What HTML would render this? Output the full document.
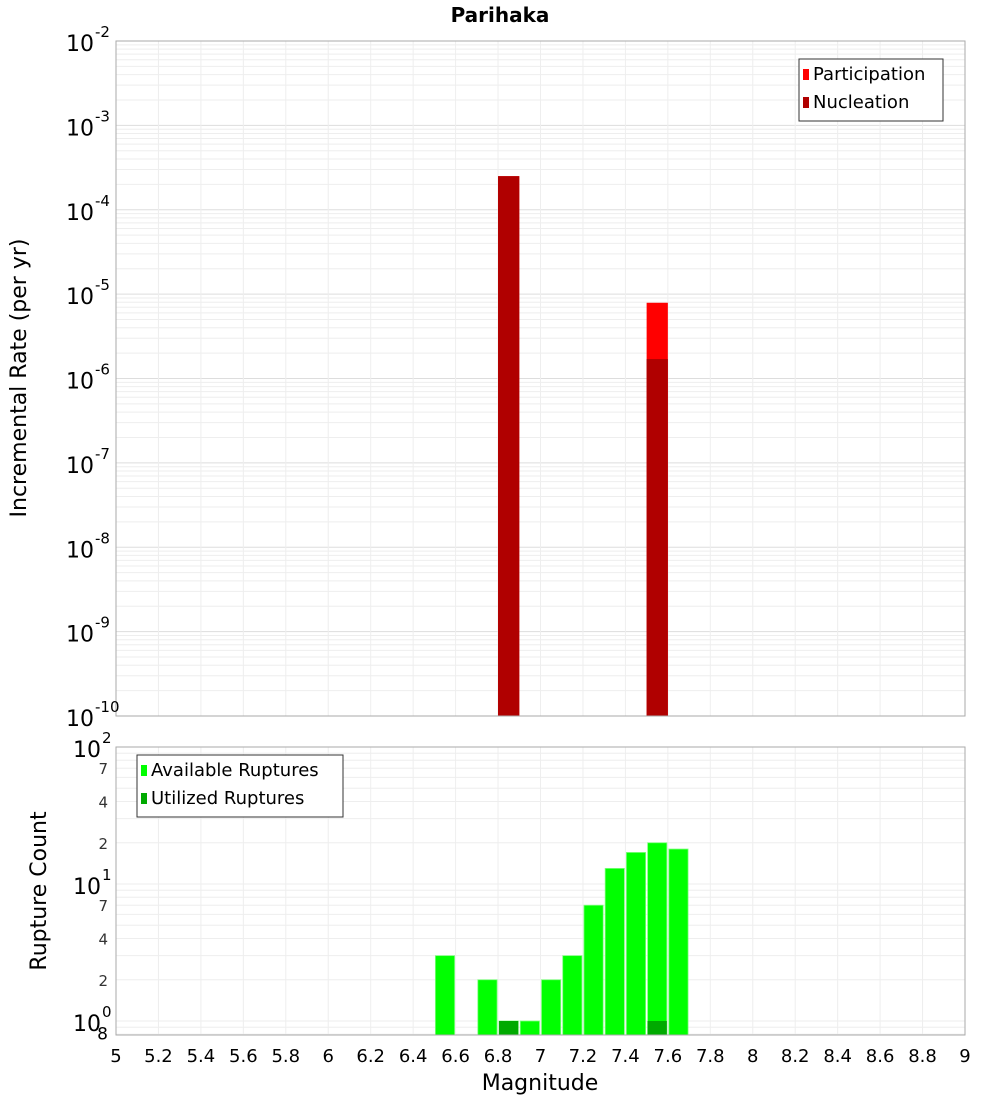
<!DOCTYPE html>
<html><head><meta charset="utf-8"><style>
body{margin:0;background:#fff;font-family:"Liberation Sans","DejaVu Sans",sans-serif}
svg text{font-family:"DejaVu Sans","Liberation Sans",sans-serif}
</style></head><body>
<svg id="c" width="1000" height="1100" xmlns="http://www.w3.org/2000/svg">
<rect width="1000" height="1100" fill="#fff"/>
<text x="500" y="22" text-anchor="middle" font-size="20" font-weight="bold">Parihaka</text>
<text transform="translate(26,378) rotate(-90)" text-anchor="middle" font-size="22">Incremental Rate (per yr)</text>
<text transform="translate(46,891) rotate(-90)" text-anchor="middle" font-size="22">Rupture Count</text>
<text x="540" y="1090" text-anchor="middle" font-size="22">Magnitude</text>
<g id="g"></g>
</svg>
<script>
const xTicks=[5,5.2,5.4,5.6,5.8,6,6.2,6.4,6.6,6.8,7,7.2,7.4,7.6,7.8,8,8.2,8.4,8.6,8.8,9];
const rateMags=[6.85,7.55];
const participation=[2.5e-4,7.9e-6];
const nucleation=[2.5e-4,1.7e-6];
const countMags=[6.55,6.75,6.85,6.95,7.05,7.15,7.25,7.35,7.45,7.55,7.65];
const available=[3,2,1,1,2,3,7,13,17,20,18];
const utilizedMags=[6.85,7.55];
const utilized=[1,1];
const topExps=[-2,-3,-4,-5,-6,-7,-8,-9,-10];
const botMinor=[7,4,2];

const NS="http://www.w3.org/2000/svg";
const g=document.getElementById('g');
function el(t,a,txt){const e=document.createElementNS(NS,t);for(const k in a)e.setAttribute(k,a[k]);if(txt!==undefined)e.textContent=txt;g.appendChild(e);return e;}
const L=116,R=965;
const X=m=>L+(m-5)*(R-L)/4;
const T0=41,T1=716;
const Yt=v=>T0+(-2-Math.log10(v))*(T1-T0)/8;
const B0=747,B1=1035;
const Yb=v=>747+(2-Math.log10(v))*137;

// top grid
for(let e=-10;e<-2;e++)for(let k=1;k<10;k++){const y=Yt(k*Math.pow(10,e));
 const ln=el('line',{x1:L,x2:R,y1:y,y2:y,stroke:k==1?'#ddd':'#eee','stroke-width':1});
 }
for(const t of xTicks){const x=X(t);
 const a=el('line',{x1:x,x2:x,y1:T0,y2:T1,stroke:'#eee'});
 const b=el('line',{x1:x,x2:x,y1:B0,y2:B1,stroke:'#eee'});}
// bottom grid
for(let e=-1;e<2;e++)for(let k=1;k<10;k++){const v=k*Math.pow(10,e);const y=Yb(v);if(y>B1||y<B0)continue;
 const ln=el('line',{x1:L,x2:R,y1:y,y2:y,stroke:'#eee'});}

// top bars
const bw=(R-L)/40;
rateMags.forEach((m,i)=>{
 const r=el('rect',{x:X(m)-bw/2,y:Yt(participation[i]),width:bw,height:T1-Yt(participation[i]),fill:'#ff0000'});
 
 const n=el('rect',{x:X(m)-bw/2,y:Yt(nucleation[i]),width:bw,height:T1-Yt(nucleation[i]),fill:'#b00000'});
 
});
// bottom bars
countMags.forEach((m,i)=>{
 const r=el('rect',{x:X(m)-bw/2+1,y:Yb(available[i]),width:bw-2,height:B1-Yb(available[i]),fill:'#00ff00',stroke:'#7fff7f','stroke-width':0.8});
 
});
utilizedMags.forEach((m,i)=>{
 const r=el('rect',{x:X(m)-bw/2+1,y:Yb(utilized[i]),width:bw-2,height:B1-Yb(utilized[i]),fill:'#00aa00'});
 
});
// frames
let f=el('rect',{x:L,y:T0,width:R-L,height:T1-T0,fill:'none',stroke:'#aaa'});
f=el('rect',{x:L,y:B0,width:R-L,height:B1-B0,fill:'none',stroke:'#aaa'});

// top y labels
topExps.forEach(e=>{const y=Yt(Math.pow(10,e));
 const t=el('text',{x:94,y:y+10,'font-size':22,'text-anchor':'end'},'10');
 const s=el('text',{x:95,y:y-4,'font-size':15},String(e));});
// bottom y labels
[[100,'2'],[10,'1'],[1,'0']].forEach(([v,e])=>{const y=Yb(v);
 const t=el('text',{x:101,y:y+10,'font-size':22,'text-anchor':'end'},'10');
 const s=el('text',{x:102,y:y-4,'font-size':15},e);});
[10,1].forEach(d=>botMinor.forEach(k=>{const y=Yb(k*d);
 const t=el('text',{x:108,y:y+6,'font-size':15,'text-anchor':'end','fill':'#333'},String(k));}));
let t8=el('text',{x:108,y:Yb(0.8)+5,'font-size':17,'text-anchor':'end'},'8');
// x labels
xTicks.forEach(v=>{const t=el('text',{x:X(v),y:1062,'font-size':18,'text-anchor':'middle'},String(v));
 });

// legends
function legend(x,y,w,items,name){const b=el('rect',{x:x,y:y,width:w,height:items.length*28+6,fill:'#fff',stroke:'#333'});
 
 items.forEach(([c,l],i)=>{const s=el('rect',{x:x+4,y:y+10+i*28,width:6,height:11,fill:c});
  const t=el('text',{x:x+14,y:y+21+i*28,'font-size':18},l);});}
legend(799,59,144,[['#ff0000','Participation'],['#b00000','Nucleation']],'top-legend');
legend(137,755,206,[['#00ff00','Available Ruptures'],['#00aa00','Utilized Ruptures']],'bottom-legend');
</script>
</body></html>
